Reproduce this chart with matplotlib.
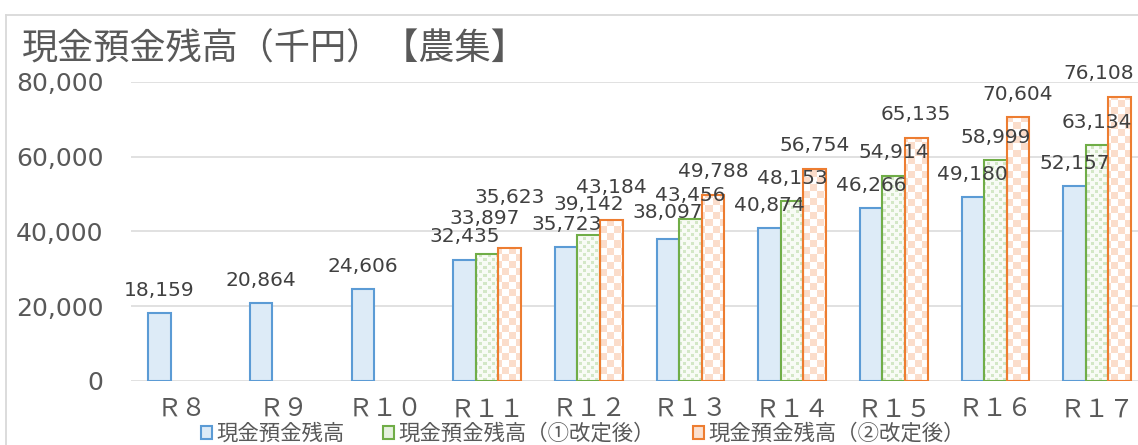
import numpy as np
import matplotlib
matplotlib.use("Agg")
import matplotlib.pyplot as plt
from matplotlib.patches import Rectangle
from matplotlib.lines import Line2D
from matplotlib.font_manager import FontProperties

# ---- data -------------------------------------------------------------
categories = ["Ｒ８", "Ｒ９", "Ｒ１０", "Ｒ１１", "Ｒ１２",
              "Ｒ１３", "Ｒ１４", "Ｒ１５", "Ｒ１６", "Ｒ１７"]
balance_base = [18159, 20864, 24606, 32435, 35723, 38097, 40874, 46266, 49180, 52157]
balance_rev1 = [np.nan, np.nan, np.nan, 33897, 39142, 43456, 48153, 54914, 58999, 63134]
balance_rev2 = [np.nan, np.nan, np.nan, 35623, 43184, 49788, 56754, 65135, 70604, 76108]
series_names = ["現金預金残高", "現金預金残高（①改定後）", "現金預金残高（②改定後）"]
y_ticks = [0, 20000, 40000, 60000, 80000]
title = "現金預金残高（千円）【農集】"

# ---- style ------------------------------------------------------------
W, H = 1138, 445
CJK = "Noto Sans CJK JP"
TXT = "#595959"
LBL = "#404040"
GRID = "#D9D9D9"
edge_colors = ["#5B9BD5", "#70AD47", "#ED7D31"]
fill_colors = ["#DDEBF7", "#E6F1DF", "#FBE0CF"]

fig = plt.figure(figsize=(W / 100, H / 100), dpi=100)
fig.patch.set_facecolor("white")

ax_left, ax_right = 131.2, 1147.9
ax_bottom, ax_top = 381, 82
ax = fig.add_axes([ax_left / W, 1 - ax_bottom / H,
                   (ax_right - ax_left) / W, (ax_bottom - ax_top) / H])
ax.set_xlim(-0.5, len(categories) - 0.5)
ax.set_ylim(0, 80000)

for s in ax.spines.values():
    s.set_visible(False)
ax.yaxis.grid(True, color=GRID, lw=1.1)
ax.set_axisbelow(True)

# ---- fill patterns (pixel-sized images clipped to each bar) -----------
ax_w_px = int(round(ax_right - ax_left))
ax_h_px = int(round(ax_bottom - ax_top))
ii, jj = np.indices((ax_h_px, ax_w_px))


def hex_rgb(c):
    c = c.lstrip("#")
    return np.array([int(c[k:k + 2], 16) / 255 for k in (0, 2, 4)])


def pattern_dots():
    bg, fg = hex_rgb("#F8FBF5"), hex_rgb("#D3E7C6")
    m = ((ii % 8 < 3) & (jj % 8 < 3)) | (((ii + 4) % 8 < 3) & ((jj + 4) % 8 < 3))
    return np.where(m[..., None], fg, bg)


def pattern_checker():
    bg, fg = hex_rgb("#FFFFFF"), hex_rgb("#FBDDCB")
    m = ((ii // 7) + (jj // 7)) % 2 == 0
    return np.where(m[..., None], fg, bg)


patterns = [None, pattern_dots(), pattern_checker()]
extent = (-0.5, len(categories) - 0.5, 0, 80000)

x = np.arange(len(categories))
width = 0.222
all_series = [balance_base, balance_rev1, balance_rev2]
for k, vals in enumerate(all_series):
    offs = (k - 1) * width
    face = fill_colors[0] if k == 0 else "none"
    bars = ax.bar(x + offs, vals, width, facecolor=face,
                  edgecolor=edge_colors[k], linewidth=1.5, zorder=3)
    if patterns[k] is not None:
        for rect, v in zip(bars, vals):
            if not np.isfinite(v):
                continue
            im = ax.imshow(patterns[k], extent=extent, origin="lower",
                           aspect="auto", interpolation="nearest", zorder=2)
            im.set_clip_path(rect)

ax.set_xlim(-0.5, len(categories) - 0.5)
ax.set_ylim(0, 80000)

# ---- data labels --------------------------------------------------------
# (series, category) -> (dx, dy) in pixels for labels moved off the default spot
label_nudge = {(0, 5): (0, 26), (1, 3): (-2, 36), (2, 3): (0, 50),
               (1, 4): (0, 30), (2, 4): (0, 32), (2, 9): (-21, 23)}
for k, vals in enumerate(all_series):
    offs = (k - 1) * width
    for i, v in enumerate(vals):
        if not np.isfinite(v):
            continue
        dx, dy = label_nudge.get((k, i), (0, 23))
        ax.annotate(f"{int(v):,}", xy=(x[i] + offs, v),
                    xytext=(dx * 0.72, dy * 0.72), textcoords="offset points",
                    ha="center", va="center", fontsize=14.5, color=LBL,
                    family="DejaVu Sans", zorder=5, annotation_clip=False)

# ---- axes text --------------------------------------------------------
ax.set_yticks(y_ticks)
ax.set_yticklabels([f"{v:,}" for v in y_ticks])
ax.tick_params(axis="y", length=0, pad=20, labelsize=18, labelcolor=TXT)

ax.set_xticks(x)
ax.set_xticklabels(categories, family=CJK)
ax.tick_params(axis="x", length=0, pad=11, labelsize=18, labelcolor=TXT)

fig.text(22 / W, 1 - 50 / H, title, ha="left", va="center",
         fontsize=26, family=CJK, color=TXT)

# chart frame (top and left edges)
fig.add_artist(Line2D([6 / W, 6 / W], [0, 1 - 15 / H], color=GRID, lw=1.3))
fig.add_artist(Line2D([6 / W, 1], [1 - 15 / H, 1 - 15 / H], color=GRID, lw=1.3))

# ---- legend -------------------------------------------------------------
handles = [Rectangle((0, 0), 1, 1, facecolor=fill_colors[k],
                     edgecolor=edge_colors[k], linewidth=1.5) for k in range(3)]
fig.legend(handles, series_names, loc="center",
           bbox_to_anchor=(583 / W, 1 - 434 / H), ncol=3, frameon=False,
           prop=FontProperties(family=CJK, size=15.4), labelcolor=TXT,
           handlelength=0.5, handleheight=0.5, handletextpad=0.2,
           columnspacing=1.8, borderpad=0, borderaxespad=0)

fig.savefig("out.png", dpi=100, facecolor="white")
